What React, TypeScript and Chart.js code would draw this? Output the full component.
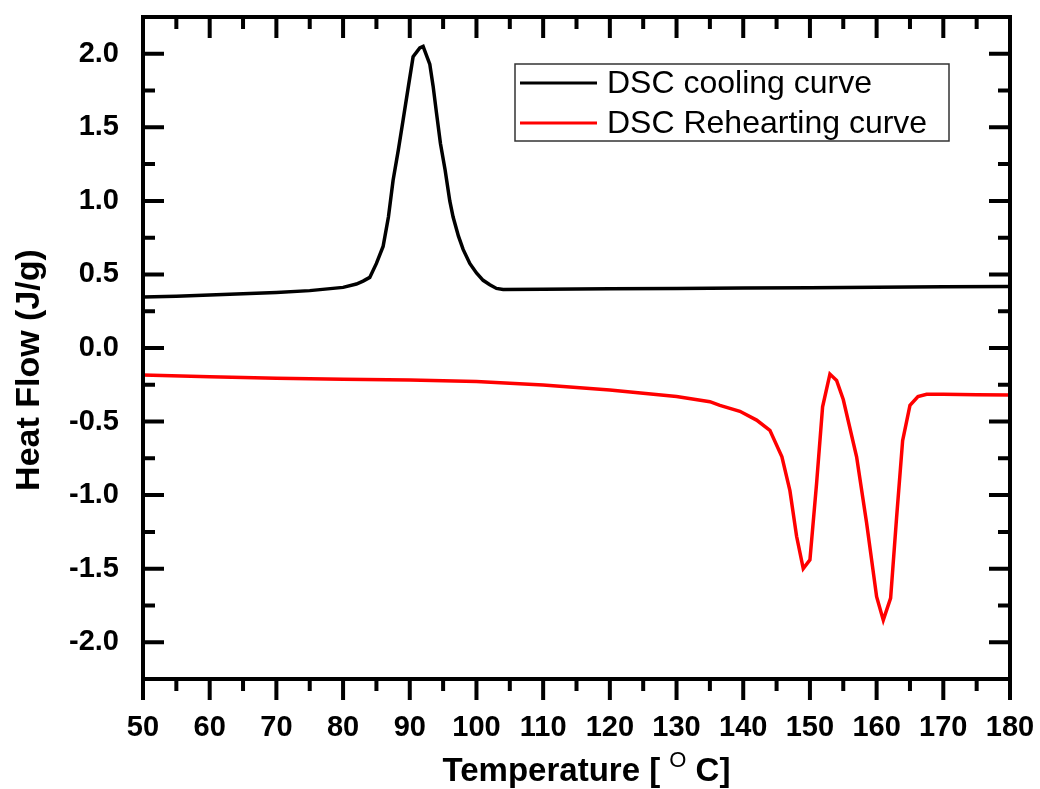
import React, { useEffect, useRef } from "react";
import { Chart, registerables } from "chart.js";

Chart.register(...registerables);

// ---- data ----
const coolingTemp = [50, 55, 60, 65, 70, 75, 80, 82, 83, 84, 85, 86, 86.8, 87.5, 88.3, 89, 89.8, 90.5, 91.5, 92, 93, 93.5, 94, 94.6, 95.3, 96, 96.5, 97.3, 98, 99, 100, 101, 102, 103, 104, 110, 120, 130, 140, 150, 160, 170, 180];
const coolingHeat = [0.347, 0.352, 0.36, 0.368, 0.378, 0.39, 0.412, 0.435, 0.455, 0.48, 0.575, 0.69, 0.89, 1.14, 1.35, 1.55, 1.78, 1.98, 2.04, 2.05, 1.93, 1.78, 1.6, 1.39, 1.21, 1.0, 0.89, 0.76, 0.67, 0.575, 0.51, 0.46, 0.43, 0.405, 0.398, 0.4, 0.403, 0.405, 0.408, 0.41, 0.413, 0.416, 0.418];

const reheatTemp = [50, 60, 70, 80, 90, 100, 110, 120, 130, 135, 136.5, 139.5, 142, 144, 145.8, 147, 148, 149, 150, 151, 151.9, 153, 154, 155, 157, 158.5, 160, 161, 162.1, 163, 163.9, 165, 166.2, 167.5, 170, 175, 180];
const reheatHeat = [-0.184, -0.195, -0.205, -0.212, -0.218, -0.228, -0.252, -0.285, -0.33, -0.365, -0.39, -0.43, -0.49, -0.56, -0.74, -0.97, -1.28, -1.5, -1.44, -0.92, -0.4, -0.177, -0.22, -0.35, -0.74, -1.19, -1.69, -1.85, -1.7, -1.15, -0.63, -0.39, -0.33, -0.315, -0.315, -0.318, -0.32];

const xTickValues = [50, 60, 70, 80, 90, 100, 110, 120, 130, 140, 150, 160, 170, 180];
const yTickValues = [-2.0, -1.5, -1.0, -0.5, 0.0, 0.5, 1.0, 1.5, 2.0];
const seriesLabels = ["DSC cooling curve", "DSC Rehearting curve"];
const seriesColors = ["#000000", "#ff0000"];
const xTitleMain = "Temperature [ ";
const xTitleSup = "O";
const xTitleEnd = " C]";
const yTitle = "Heat Flow (J/g)";

const FONT = "'Liberation Sans', Arial, sans-serif";

const framePlugin = {
  id: "frameTicks",
  afterDraw(chart: any) {
    const { ctx, chartArea } = chart;
    const xs = chart.scales.x;
    const ys = chart.scales.y;
    const { left, right, top, bottom } = chartArea;
    ctx.save();
    ctx.strokeStyle = "#000";
    ctx.lineWidth = 4;
    ctx.lineCap = "butt";
    ctx.strokeRect(left, top, right - left, bottom - top);
    // x ticks
    for (let v = xs.min; v <= xs.max + 1e-9; v += 5) {
      const px = xs.getPixelForValue(v);
      const major = Math.abs(v % 10) < 1e-6;
      const len = major ? 21 : 12;
      ctx.beginPath();
      ctx.moveTo(px, bottom);
      ctx.lineTo(px, bottom + len);
      ctx.moveTo(px, top);
      ctx.lineTo(px, top + len);
      ctx.stroke();
    }
    // y ticks
    for (let i = 0; i <= 18; i++) {
      const v = -2.25 + i * 0.25;
      const py = ys.getPixelForValue(v);
      const major = i % 2 === 1;
      const len = major ? 21 : 12;
      ctx.beginPath();
      ctx.moveTo(left, py);
      ctx.lineTo(left + len, py);
      ctx.moveTo(right, py);
      ctx.lineTo(right - len, py);
      ctx.stroke();
    }
    // legend
    const lx = 515, ly = 64, lw = 434, lh = 77;
    ctx.lineWidth = 1.5;
    ctx.strokeStyle = "#333";
    ctx.strokeRect(lx, ly, lw, lh);
    const rows = [83, 123];
    ctx.font = `32px ${FONT}`;
    ctx.textBaseline = "middle";
    ctx.textAlign = "left";
    ctx.fillStyle = "#000";
    rows.forEach((ry, i) => {
      ctx.strokeStyle = seriesColors[i];
      ctx.lineWidth = 3;
      ctx.beginPath();
      ctx.moveTo(520, ry);
      ctx.lineTo(597, ry);
      ctx.stroke();
      ctx.fillText(seriesLabels[i], 607, ry + 1);
    });
    // x title
    ctx.font = `bold 33px ${FONT}`;
    ctx.textBaseline = "alphabetic";
    const w1 = ctx.measureText(xTitleMain).width;
    ctx.font = `22px ${FONT}`;
    const w2 = ctx.measureText(xTitleSup).width;
    ctx.font = `bold 33px ${FONT}`;
    const w3 = ctx.measureText(xTitleEnd).width;
    const total = w1 + w2 + w3;
    let sx = (left + right) / 2 - total / 2 + 10;
    const baseY = 781;
    ctx.fillText(xTitleMain, sx, baseY);
    sx += w1;
    ctx.font = `22px ${FONT}`;
    ctx.fillText(xTitleSup, sx, baseY - 14);
    sx += w2;
    ctx.font = `bold 33px ${FONT}`;
    ctx.fillText(xTitleEnd, sx, baseY);
    // y title
    ctx.save();
    ctx.translate(30, 370);
    ctx.rotate(-Math.PI / 2);
    ctx.textAlign = "center";
    ctx.textBaseline = "middle";
    ctx.font = `bold 34px ${FONT}`;
    ctx.fillText(yTitle, 0, 0);
    ctx.restore();
    ctx.restore();
  },
};

export default function App() {
  const ref = useRef<HTMLCanvasElement | null>(null);
  useEffect(() => {
    document.body.style.margin = "0";
    const canvas = ref.current!;
    const chart = new Chart(canvas, {
      type: "scatter",
      data: {
        datasets: [
          {
            label: seriesLabels[0],
            data: coolingTemp.map((t, i) => ({ x: t, y: coolingHeat[i] })),
            showLine: true,
            borderColor: seriesColors[0],
            backgroundColor: seriesColors[0],
            borderWidth: 3.5,
            pointRadius: 0,
            tension: 0,
          },
          {
            label: seriesLabels[1],
            data: reheatTemp.map((t, i) => ({ x: t, y: reheatHeat[i] })),
            showLine: true,
            borderColor: seriesColors[1],
            backgroundColor: seriesColors[1],
            borderWidth: 3.5,
            pointRadius: 0,
            tension: 0,
          },
        ],
      },
      options: {
        animation: false,
        responsive: false,
        devicePixelRatio: 1,
        layout: { padding: { top: 17, right: 30, left: 0, bottom: 0 } },
        plugins: { legend: { display: false }, tooltip: { enabled: false } },
        scales: {
          x: {
            type: "linear",
            min: 50,
            max: 180,
            grid: { display: false, drawTicks: false },
            border: { display: false },
            afterFit: (s: any) => {
              s.height = 110;
              s.paddingLeft = 0;
              s.paddingRight = 0;
            },
            afterBuildTicks: (s: any) => { s.ticks = xTickValues.map((v) => ({ value: v })); },
            ticks: {
              color: "#000",
              font: { family: FONT, size: 29, weight: "bold" },
              padding: 32,
              maxRotation: 0,
              autoSkip: false,
              callback: (v: any) => String(v),
            },
          },
          y: {
            type: "linear",
            min: -2.25,
            max: 2.25,
            grid: { display: false, drawTicks: false },
            border: { display: false },
            afterFit: (s: any) => {
              s.width = 143;
              s.paddingTop = 0;
              s.paddingBottom = 0;
            },
            afterBuildTicks: (s: any) => { s.ticks = yTickValues.map((v) => ({ value: v })); },
            ticks: {
              color: "#000",
              font: { family: FONT, size: 29, weight: "bold" },
              padding: 24,
              autoSkip: false,
              callback: (v: any) => Number(v).toFixed(1),
            },
          },
        },
      },
      plugins: [framePlugin],
    });
    return () => chart.destroy();
  }, []);
  return (
    <div style={{ position: "fixed", left: 0, top: 0, width: 1040, height: 789, background: "#fff" }}>
      <canvas ref={ref} width={1040} height={789} />
    </div>
  );
}
